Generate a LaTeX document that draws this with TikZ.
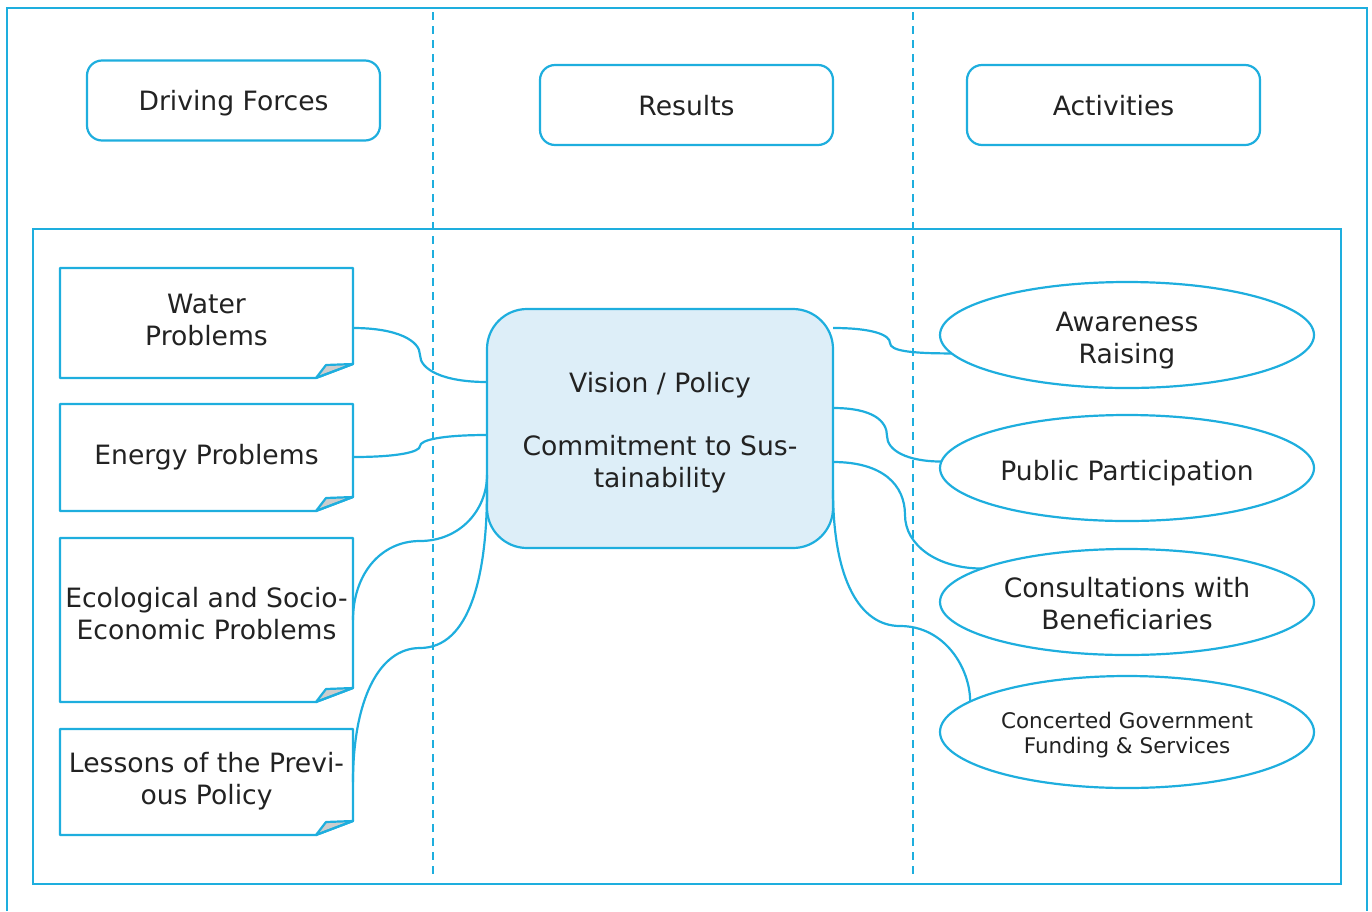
\documentclass[tikz,border=0pt]{standalone}
\usepackage{fontspec}
\setmainfont{DejaVu Sans}
\usetikzlibrary{calc,shapes.geometric}
\definecolor{cb}{RGB}{30,174,222}
\definecolor{vfill}{RGB}{221,238,248}
\definecolor{txt}{RGB}{34,34,34}
\definecolor{foldgray}{RGB}{205,205,205}
\newcommand\sr{\rule{0pt}{22pt}}
\newcommand\srs{\rule{0pt}{18pt}}
\newcommand\foldbox[1]{%
  \draw[boxline, fill=foldgray] ([xshift=-37pt]#1.south east) -- ([xshift=-27pt,yshift=13pt]#1.south east) -- ([yshift=14pt]#1.south east) -- cycle;
  \draw[boxline] (#1.north west) -- (#1.north east) -- ([yshift=14pt]#1.south east) -- ([xshift=-37pt]#1.south east) -- (#1.south west) -- cycle;
}
\begin{document}
\begin{tikzpicture}[x=1pt,y=-1pt,
  every node/.style={text=txt, inner sep=0pt, outer sep=0pt},
  bigtxt/.style={font=\fontsize{26.6}{32.5}\selectfont, align=center, anchor=north},
  smalltxt/.style={font=\fontsize{21.5}{25}\selectfont, align=center, anchor=north},
  headbox/.style={draw=cb, line width=2.2pt, rounded corners=15pt, fill=white, minimum width=293pt, minimum height=80pt},
  leftbox/.style={minimum width=293pt},
  boxline/.style={draw=cb, line width=2.2pt, line join=round},
  actell/.style={ellipse, draw=cb, line width=2.2pt, fill=white, minimum width=374pt, minimum height=106pt},
  conn/.style={draw=cb, line width=2.2pt},
  divider/.style={draw=cb, line width=2pt, dash pattern=on 8pt off 6pt},
  framel/.style={draw=cb, line width=2pt}]
\useasboundingbox (0,0) rectangle (1372,911);
% frames
\draw[framel] (7,911) -- (7,8) -- (1367,8) -- (1367,911);
\draw[framel] (33,229) rectangle (1341,884);
\draw[divider] (433,12) -- (433,876);
\draw[divider] (913,12) -- (913,876);
% headers
\node[headbox] (df) at (233.5,100.5) {};
\node[headbox] (res) at (686.5,105) {};
\node[headbox] (acts) at (1113.5,105) {};
\node[bigtxt] (dfT) at (233.5,88) {\sr Driving Forces};
\node[bigtxt] (resT) at (686.5,93) {\sr Results};
\node[bigtxt] (actsT) at (1113.5,93) {\sr Activities};
% left boxes
\node[leftbox, minimum height=110pt] (water) at (206.5,323) {};
\node[leftbox, minimum height=107pt] (energy) at (206.5,457.5) {};
\node[leftbox, minimum height=164pt] (eco) at (206.5,620) {};
\node[leftbox, minimum height=106pt] (lessons) at (206.5,782) {};
\foldbox{water}
\foldbox{energy}
\foldbox{eco}
\foldbox{lessons}
\node[bigtxt] (waterT) at (206.5,291) {\sr Water\\Problems};
\node[bigtxt] (energyT) at (206.5,442) {\sr Energy Problems};
\node[bigtxt] (ecoT) at (206.5,585) {\sr Ecological and Socio-\\Economic Problems};
\node[bigtxt] (lessonsT) at (206.5,750) {\sr Lessons of the Previ-\\ous Policy};
% center
\node[draw=cb, line width=2.2pt, fill=vfill, rounded corners=40pt, minimum width=346pt, minimum height=239pt] (vision) at (660,428.5) {};
\node[bigtxt] (visionT) at (660,370) {\sr Vision / Policy\\[30.5pt]Commitment to Sus-\\tainability};
% activities
\node[actell] (aware) at (1127,335) {};
\node[actell] (public) at (1127,468) {};
\node[actell] (consult) at (1127,602) {};
\node[actell, minimum height=112pt] (concert) at (1127,732) {};
\node[bigtxt] (awareT) at (1127,309) {\sr Awareness\\Raising};
\node[bigtxt] (publicT) at (1127,458) {\sr Public Participation};
\node[bigtxt] (consultT) at (1127,575) {\sr Consultations with\\Beneficiaries};
\node[smalltxt] (concertT) at (1127,710) {\srs Concerted Government\\Funding \& Services};
% mid coordinates
\coordinate (m1) at (420,355);
\coordinate (m2) at (420,446);
\coordinate (m3) at (420,541);
\coordinate (m4) at (420,648);
\coordinate (m5) at (890,343);
\coordinate (m6) at (887,436);
\coordinate (m7) at (905,515);
\coordinate (m8) at (900,626);
% left connectors
\draw[conn] ($(water.north east)+(0,60)$) .. controls +(45,0) and +(0,-14) .. (m1) .. controls +(0,14) and +(-45,0) .. ($(vision.north west)+(0,73)$);
\draw[conn] ($(energy.north east)+(0,53)$) .. controls +(45,0) and +(0,6) .. (m2) .. controls +(0,-6) and +(-45,0) .. ($(vision.north west)+(0,126)$);
\draw[conn] ($(eco.north east)+(0,82)$) .. controls +(0,-45) and +(-40,0) .. (m3) .. controls +(40,0) and +(0,35) .. ($(vision.north west)+(0,166)$);
\draw[conn] ($(lessons.north east)+(0,53)$) .. controls +(0,-80) and +(-42,0) .. (m4) .. controls +(50,0) and +(0,85) .. ($(vision.north west)+(0,181)$);
% right connectors
\draw[conn] ($(vision.north east)+(0,19)$) .. controls +(40,0) and +(0,-8) .. (m5) .. controls +(0,8) and +(-40,0) .. (aware.186);
\draw[conn] ($(vision.north east)+(0,99)$) .. controls +(40,0) and +(0,-15) .. (m6) .. controls +(0,14) and +(-35,0) .. (public.178);
\draw[conn] ($(vision.north east)+(0,153)$) .. controls +(50,0) and +(0,-30) .. (m7) .. controls +(0,30) and +(-45,0) .. (consult.167);
\draw[conn] ($(vision.north east)+(0,181)$) .. controls +(0,90) and +(-40,0) .. (m8) .. controls +(45,0) and +(0,-33) .. (concert.169.7);
\end{tikzpicture}
\end{document}
